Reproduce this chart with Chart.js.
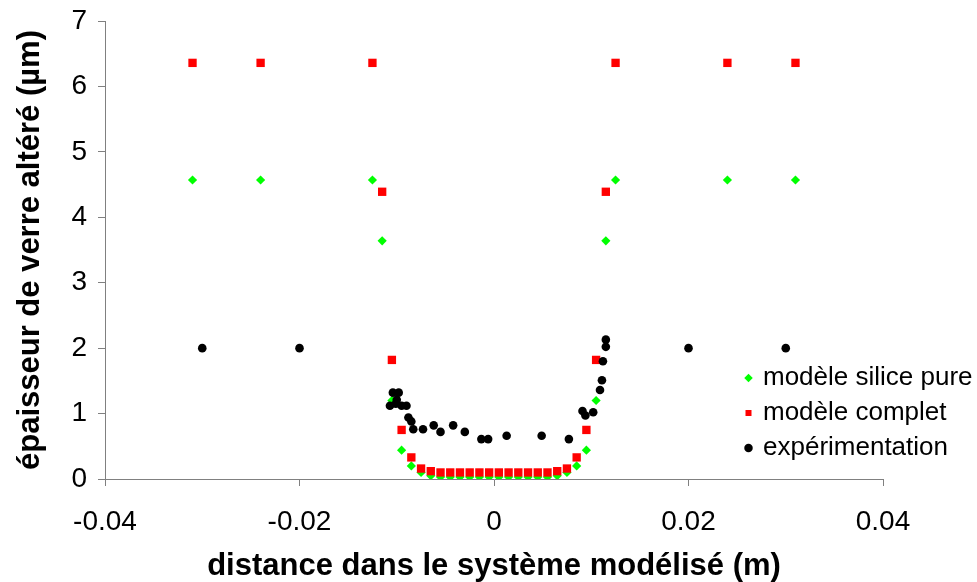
<!DOCTYPE html>
<html>
<head>
<meta charset="utf-8">
<script src="https://cdn.jsdelivr.net/npm/chart.js@4.4.1/dist/chart.umd.min.js"></script>
<style>
  html, body { margin: 0; padding: 0; background: #fff; }
  #wrap { width: 977px; height: 582px; }
</style>
</head>
<body>
<div id="wrap"><canvas id="graph1" width="977" height="582"></canvas></div>
<script>
// noms des series
const seriesNames = ['modèle silice pure', 'modèle complet', 'expérimentation'];

// modele silice pure (losanges verts)
const siliceX = [-0.031, -0.024, -0.0125, -0.0115, -0.0105, -0.0095, -0.0085, -0.0075, -0.0065,
  -0.0055, -0.0045, -0.0035, -0.0025, -0.0015, -0.0005, 0.0005, 0.0015, 0.0025, 0.0035, 0.0045, 0.0055,
  0.0065, 0.0075, 0.0085, 0.0095, 0.0105, 0.0115, 0.0125, 0.024, 0.031];
const siliceY = [4.57, 4.57, 4.57, 3.64, 1.2, 0.44, 0.2, 0.1, 0.05,
  0.03, 0.03, 0.03, 0.03, 0.03, 0.03, 0.03, 0.03, 0.03, 0.03, 0.03, 0.03,
  0.05, 0.1, 0.2, 0.44, 1.2, 3.64, 4.57, 4.57, 4.57];

// modele complet (carres rouges)
const completX = [-0.031, -0.024, -0.0125, -0.0115, -0.0105, -0.0095, -0.0085, -0.0075, -0.0065,
  -0.0055, -0.0045, -0.0035, -0.0025, -0.0015, -0.0005, 0.0005, 0.0015, 0.0025, 0.0035, 0.0045, 0.0055,
  0.0065, 0.0075, 0.0085, 0.0095, 0.0105, 0.0115, 0.0125, 0.024, 0.031];
const completY = [6.36, 6.36, 6.36, 4.39, 1.82, 0.75, 0.33, 0.16, 0.12,
  0.1, 0.1, 0.1, 0.1, 0.1, 0.1, 0.1, 0.1, 0.1, 0.1, 0.1, 0.1,
  0.12, 0.16, 0.33, 0.75, 1.82, 4.39, 6.36, 6.36, 6.36];

// experimentation (ronds noirs)
const expX = [-0.03, -0.02, -0.0104, -0.0098, -0.01, -0.0107, -0.0101, -0.0095, -0.009, -0.0088,
  -0.0085, -0.0083, -0.0073, -0.0062, -0.0055, -0.0042, -0.003, -0.0013, -0.0006, 0.0013, 0.0049,
  0.0077, 0.0091, 0.0094, 0.0102, 0.0109, 0.0111, 0.0112, 0.0115, 0.0115, 0.02, 0.03];
const expY = [2.0, 2.0, 1.32, 1.32, 1.21, 1.12, 1.15, 1.12, 1.12, 0.94,
  0.88, 0.76, 0.76, 0.82, 0.72, 0.82, 0.72, 0.61, 0.61, 0.66, 0.66,
  0.61, 1.04, 0.97, 1.02, 1.36, 1.51, 1.80, 2.02, 2.13, 2.0, 2.0];

// axes
const xTicks = [-0.04, -0.02, 0, 0.02, 0.04];
const yTicks = [0, 1, 2, 3, 4, 5, 6, 7];
const xTitle = 'distance dans le système modélisé (m)';
const yTitle = 'épaisseur de verre altéré (µm)';

function toPoints(xs, ys) {
  return xs.map((x, i) => ({ x: x, y: ys[i] }));
}

const FONT = "'Liberation Sans', Arial, Helvetica, sans-serif";
const AXIS_GREY = '#808080';

// deplacer la legende en bas a droite dans la zone du graphe
const moveLegend = {
  id: 'moveLegend',
  afterLayout(chart) {
    const lg = chart.legend;
    lg.left = 738;
    lg.top = 356;
    lg.right = lg.left + 239;
    lg.bottom = lg.top + 200;
  }
};

const ctx = document.getElementById('graph1');
const graph = new Chart(ctx, {
  type: 'scatter',
  data: {
    datasets: [{
      label: seriesNames[0],
      data: toPoints(siliceX, siliceY),
      pointStyle: 'rectRot',
      pointRadius: 4.6,
      backgroundColor: '#00ff00',
      borderColor: '#00ff00',
      borderWidth: 0,
      order: 3
    }, {
      label: seriesNames[1],
      data: toPoints(completX, completY),
      pointStyle: 'rect',
      pointRadius: 5.9,
      backgroundColor: '#ff0000',
      borderColor: '#ff0000',
      borderWidth: 0,
      order: 2
    }, {
      label: seriesNames[2],
      data: toPoints(expX, expY),
      pointStyle: 'circle',
      pointRadius: 4.3,
      backgroundColor: '#000000',
      borderColor: '#000000',
      borderWidth: 0,
      order: 1
    }]
  },
  options: {
    responsive: false,
    devicePixelRatio: 1,
    animation: false,
    layout: { padding: { top: 21, right: 94, bottom: 0, left: 0 } },
    plugins: {
      tooltip: { enabled: false },
      legend: {
        position: 'chartArea',
        align: 'start',
        labels: {
          usePointStyle: true,
          boxWidth: 3,
          boxHeight: 6,
          padding: 9,
          color: '#000',
          font: { family: FONT, size: 26 },
          sort: (a, b) => a.datasetIndex - b.datasetIndex
        }
      }
    },
    scales: {
      x: {
        type: 'linear',
        min: -0.04,
        max: 0.04,
        afterFit: s => { s.height = 103; s.paddingLeft = 0; s.paddingRight = 0; },
        afterBuildTicks: s => { s.ticks = xTicks.map(v => ({ value: v })); },
        ticks: {
          color: '#000',
          padding: 19,
          maxRotation: 0,
          font: { family: FONT, size: 28 },
          callback: v => String(+v.toFixed(2))
        },
        grid: { display: true, drawOnChartArea: false, drawTicks: true, tickLength: 7, color: AXIS_GREY },
        border: { display: true, color: AXIS_GREY, width: 1 },
        title: {
          display: true,
          text: xTitle,
          color: '#000',
          padding: { top: 0, bottom: 0 },
          font: { family: FONT, size: 31, weight: 'bold', lineHeight: 1.0 }
        }
      },
      y: {
        type: 'linear',
        min: 0,
        max: 7,
        afterFit: s => { s.width = 105; s.paddingTop = 0; s.paddingBottom = 0; },
        afterBuildTicks: s => { s.ticks = yTicks.map(v => ({ value: v })); },
        ticks: {
          color: '#000',
          padding: 11,
          font: { family: FONT, size: 28 }
        },
        grid: { display: true, drawOnChartArea: false, drawTicks: true, tickLength: 7, color: AXIS_GREY },
        border: { display: true, color: AXIS_GREY, width: 1 },
        title: {
          display: true,
          text: yTitle,
          color: '#000',
          padding: { top: 12, bottom: 0 },
          font: { family: FONT, size: 31, weight: 'bold' }
        }
      }
    }
  },
  plugins: [moveLegend]
});
</script>
</body>
</html>
